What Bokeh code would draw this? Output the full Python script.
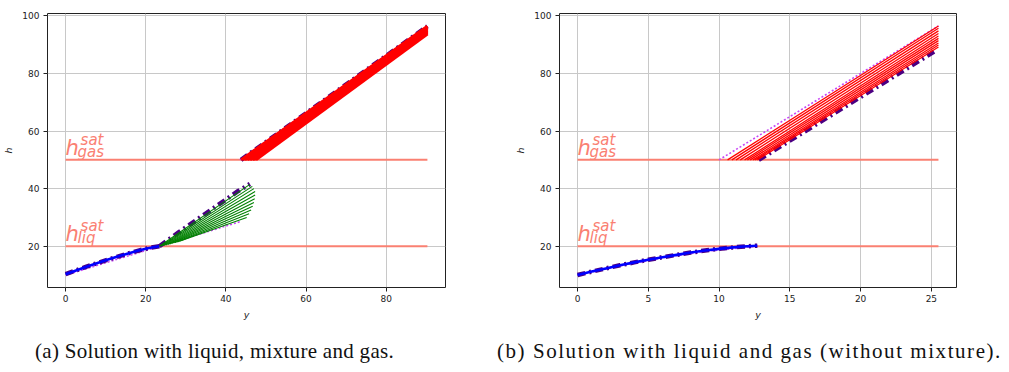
from bokeh.plotting import figure
from bokeh.models import Range1d, FixedTicker, Div
from bokeh.layouts import row, column
from bokeh.core.properties import value
from bokeh.embed import file_html
from bokeh.resources import INLINE

# ---------------- data ----------------
h_liq_sat = 20.0
h_gas_sat = 50.0
y_ticks = [20, 40, 60, 80, 100]

# panel (a): liquid, mixture and gas
a_x_ticks = [0, 20, 40, 60, 80]
a_x_max = 90.3
a_liq_y = [0.0, 2.6, 5.2, 7.8, 10.4, 13.0, 15.6, 18.2, 20.8, 23.4]
a_liq_h = [10.3, 11.6, 12.9, 14.1, 15.3, 16.4, 17.5, 18.5, 19.4, 20.0]
a_mix_y0 = [23.4, 23.8, 24.2, 24.6, 25.0, 25.5, 26.0, 26.6, 27.2, 27.9, 28.6]
a_mix_h0 = [20.0, 20.1, 20.2, 20.3, 20.4, 20.6, 20.8, 21.0, 21.2, 21.5, 21.8]
a_mix_y1 = [46.0, 46.6, 47.0, 47.3, 47.3, 47.2, 47.0, 46.7, 46.3, 45.8, 45.2]
a_mix_h1 = [41.5, 40.8, 40.0, 39.0, 37.8, 36.5, 35.2, 33.9, 32.6, 31.3, 30.0]
a_gas_y0 = [43.8, 44.2, 44.6, 45.0, 45.4, 45.8, 46.2, 46.6, 47.0, 47.5]
a_gas_h1 = [96.4, 96.1, 95.8, 95.5, 95.2, 94.9, 94.6, 94.3, 94.0, 93.7]
a_ref_mix_y = [23.4, 28.2, 34.4, 43.1, 46.0]
a_ref_mix_h = [20.0, 24.8, 30.8, 39.2, 41.6]
a_ref_gas_y = [43.8, 90.3]
a_ref_gas_h = [50.0, 96.4]
a_init_liq_y = [0.0, 43.5]
a_init_liq_h = [10.0, 28.5]
a_init_gas_y = [43.5, 90.3]
a_init_gas_h = [50.0, 96.4]

# panel (b): liquid and gas (no mixture)
b_x_ticks = [0, 5, 10, 15, 20, 25]
b_x_max = 25.5
b_liq_y = [0, 1, 2, 3, 4, 5, 6, 7, 8, 9, 10, 11, 12, 12.7]
b_liq_h = [10.0, 11.2, 12.3, 13.4, 14.4, 15.3, 16.2, 17.0, 17.8, 18.5, 19.1, 19.6, 20.0, 20.2]
b_gas_y0 = [10.6, 10.9, 11.2, 11.5, 11.8, 12.0, 12.2, 12.4, 12.55, 12.7]
b_gas_h1 = [96.5, 95.7, 94.8, 93.9, 93.0, 92.2, 91.4, 90.6, 89.9, 89.2]
b_ref_gas_y = [12.8, 25.3]
b_ref_gas_h = [50.0, 87.9]
b_init_liq_y = [0.0, 3.0, 6.0, 9.0, 12.6]
b_init_liq_h = [10.0, 13.2, 16.0, 18.2, 20.0]
b_init_gas_y = [10.0, 25.5]
b_init_gas_h = [50.0, 96.5]

captions = ["(a) Solution with liquid, mixture and gas.",
            "(b) Solution with liquid and gas (without mixture)."]

# ---------------- style ----------------
SALMON = "#fa8072"
INDIGO = "#4b0082"
MAGENTA = "#c847f5"
BLUE = "#0000ff"
RED = "#ff0000"
GREEN = "#008000"
DASHDOT = "8 4 2 4"


def y_limits():
    lo, hi = 10.0, 96.5
    pad = 0.05 * (hi - lo)
    return lo - pad, hi + pad


def base_fig(x_max, x_ticks, frame_w, border_right):
    pad = 0.05 * x_max
    ylo, yhi = y_limits()
    p = figure(frame_width=frame_w, frame_height=274,
               x_range=Range1d(-pad, x_max + pad), y_range=Range1d(ylo, yhi),
               output_backend="svg", toolbar_location=None,
               min_border_left=41, min_border_right=border_right,
               min_border_top=13, min_border_bottom=38,
               background_fill_color="white", border_fill_color="white")
    p.xaxis.ticker = FixedTicker(ticks=x_ticks)
    p.yaxis.ticker = FixedTicker(ticks=y_ticks)
    p.xaxis.axis_label = "y"
    p.yaxis.axis_label = "h"
    for ax in p.axis:
        ax.axis_label_text_font = "DejaVu Sans"
        ax.axis_label_text_font_style = "italic"
        ax.axis_label_text_font_size = "9.5px"
        ax.axis_label_text_color = "#222222"
        ax.major_label_text_font = "DejaVu Sans"
        ax.major_label_text_font_size = "9px"
        ax.major_label_text_color = "#222222"
        ax.axis_line_color = None
        ax.major_tick_line_color = "#222222"
        ax.major_tick_out = 4
        ax.major_tick_in = 0
        ax.minor_tick_line_color = None
    p.yaxis.major_label_standoff = 4
    p.xaxis.major_label_standoff = 3
    p.yaxis.axis_label_standoff = 5
    p.xaxis.axis_label_standoff = 4
    p.grid.grid_line_color = "#c8c8c8"
    p.grid.grid_line_width = 1
    p.outline_line_color = "#222222"
    p.outline_line_width = 1
    # saturation lines
    p.line([0, x_max], [h_gas_sat, h_gas_sat], line_color=SALMON, line_width=2)
    p.line([0, x_max], [h_liq_sat, h_liq_sat], line_color=SALMON, line_width=2)
    return p


def sat_labels(p):
    common = dict(text_font=value("DejaVu Sans"), text_font_style="italic",
                  text_color=SALMON, text_baseline="alphabetic", text_align="left")
    for hv, sub in ((h_gas_sat, "gas"), (h_liq_sat, "liq")):
        p.text(x=[0], y=[hv], text=["h"], x_offset=0, y_offset=-12,
               text_font_size="21px", **common)
        p.text(x=[0], y=[hv], text=["sat"], x_offset=15, y_offset=-20,
               text_font_size="15px", **common)
        p.text(x=[0], y=[hv], text=[sub], x_offset=12, y_offset=-8,
               text_font_size="15px", **common)


# ---------------- panel (a) ----------------
pa = base_fig(a_x_max, a_x_ticks, 398, 67)
pa.line(a_init_liq_y, a_init_liq_h, line_color=MAGENTA, line_width=1.6, line_dash="2 2")
pa.line(a_init_gas_y, a_init_gas_h, line_color=MAGENTA, line_width=1.6, line_dash="2 2")
pa.line(a_liq_y, a_liq_h, line_color=INDIGO, line_width=4.5, line_dash=DASHDOT)
pa.line(a_ref_mix_y, a_ref_mix_h, line_color=INDIGO, line_width=4.5, line_dash=DASHDOT)
pa.line(a_ref_gas_y, a_ref_gas_h, line_color=INDIGO, line_width=4.5, line_dash=DASHDOT)
pa.line(a_liq_y, a_liq_h, line_color=BLUE, line_width=2.6)
pa.multi_line([[y0, y1] for y0, y1 in zip(a_mix_y0, a_mix_y1)],
              [[h0, h1] for h0, h1 in zip(a_mix_h0, a_mix_h1)],
              line_color=GREEN, line_width=1.1)
pa.multi_line([[y0, a_x_max] for y0 in a_gas_y0],
              [[h_gas_sat, h1] for h1 in a_gas_h1],
              line_color=RED, line_width=3)
sat_labels(pa)

# ---------------- panel (b) ----------------
pb = base_fig(b_x_max, b_x_ticks, 397, 40)
pb.line(b_init_liq_y, b_init_liq_h, line_color=MAGENTA, line_width=1.6, line_dash="2 2")
pb.line(b_init_gas_y, b_init_gas_h, line_color=MAGENTA, line_width=1.6, line_dash="2 2")
pb.line(b_liq_y, b_liq_h, line_color=INDIGO, line_width=4.5, line_dash=DASHDOT)
pb.line(b_ref_gas_y, b_ref_gas_h, line_color=INDIGO, line_width=4.5, line_dash=DASHDOT)
pb.line(b_liq_y, b_liq_h, line_color=BLUE, line_width=2.6)
pb.multi_line([[y0, b_x_max] for y0 in b_gas_y0],
              [[h_gas_sat, h1] for h1 in b_gas_h1],
              line_color=RED, line_width=1.3)
sat_labels(pb)

# ---------------- captions ----------------
cap_style = ("font-family:'Liberation Serif',serif;font-size:21px;"
             "white-space:nowrap;color:#111111;padding-top:11px;")
d1 = Div(text=f'<div style="{cap_style}letter-spacing:0.3px;padding-left:35px;">{captions[0]}</div>',
         width=478, height=28, margin=0)
d2 = Div(text=f'<div style="{cap_style}letter-spacing:1.55px;padding-left:19px;">{captions[1]}</div>',
         width=515, height=28, margin=0)

layout = column(row(pa, pb), row(d1, d2))
open("out.html", "w").write(file_html(layout, INLINE))
